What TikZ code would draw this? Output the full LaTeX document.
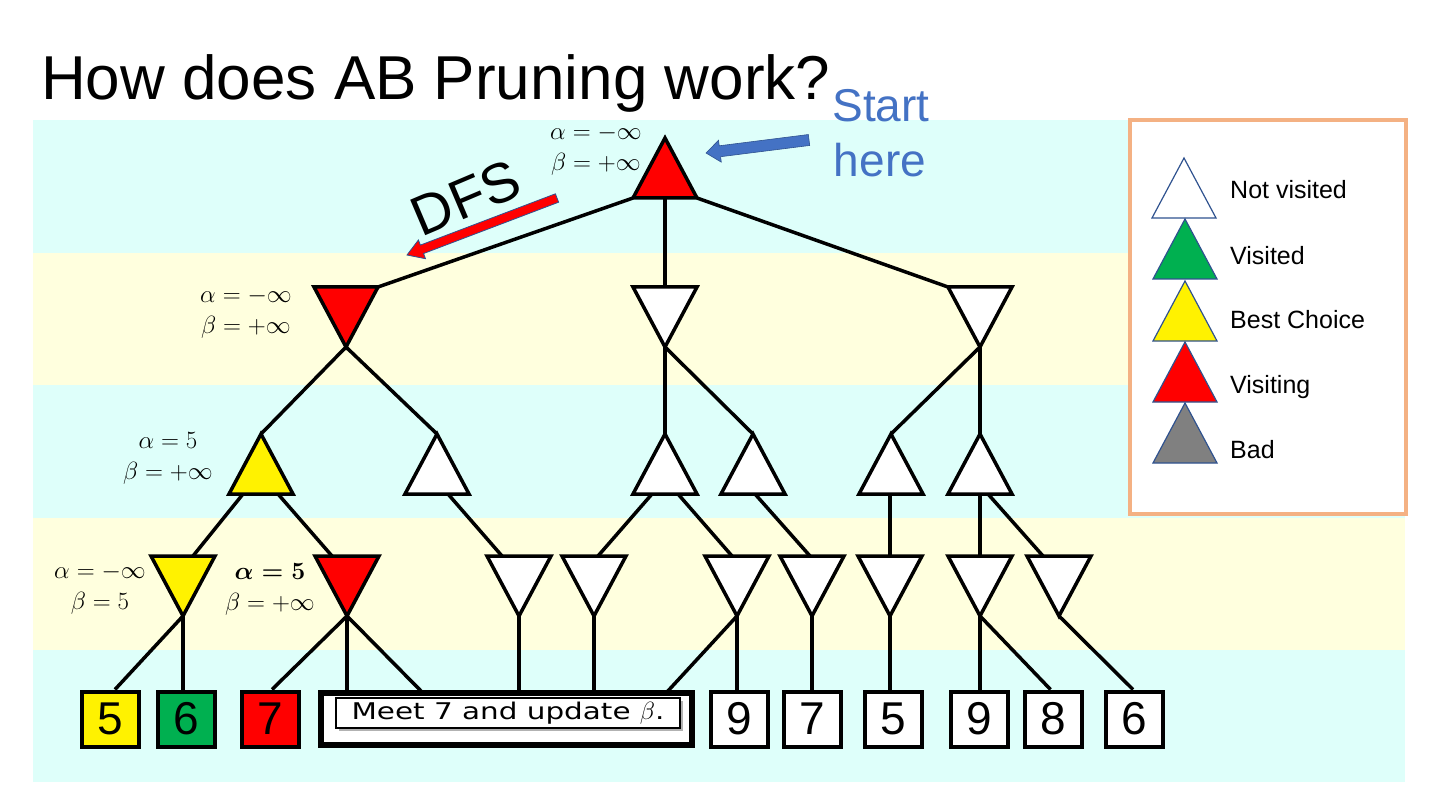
\documentclass[tikz,border=0pt]{standalone}
\usepackage{fontspec}
\setmainfont{Liberation Sans}
\newfontfamily\callfont[FakeStretch=1.28]{DejaVu Sans}
\usetikzlibrary{calc,shadows}
\definecolor{bandc}{RGB}{222,255,250}
\definecolor{bandy}{RGB}{255,255,222}
\definecolor{ppblue}{RGB}{68,114,196}
\definecolor{ppdark}{RGB}{47,82,143}
\definecolor{ppgreen}{RGB}{0,176,80}
\definecolor{legframe}{RGB}{244,177,131}
\definecolor{badgray}{RGB}{128,128,128}
\newcommand\defup[2]{\coordinate (#1) at (#2);
 \coordinate (#1-t) at ($(#1)+(0,-30)$); \coordinate (#1-b) at ($(#1)+(0,30)$);
 \coordinate (#1-l) at ($(#1)+(-32,30)$); \coordinate (#1-r) at ($(#1)+(32,30)$);}
\newcommand\defdn[2]{\coordinate (#1) at (#2);
 \coordinate (#1-t) at ($(#1)+(0,-30)$); \coordinate (#1-b) at ($(#1)+(0,30)$);
 \coordinate (#1-l) at ($(#1)+(-32,-30)$); \coordinate (#1-r) at ($(#1)+(32,-30)$);}
\newcommand\drawup[3][tri]{\draw[#1,fill=#3] (#2-t) -- (#2-r) -- (#2-l) -- cycle;}
\newcommand\drawdn[3][tri]{\draw[#1,fill=#3] (#2-b) -- (#2-r) -- (#2-l) -- cycle;}
\tikzset{
 tri/.style={draw=black, line width=3.5pt, line join=miter},
 legtri/.style={draw=ppdark, line width=1.2pt, line join=miter},
 edge/.style={draw=black, line width=3.5pt},
 leaf/.style={draw=black, line width=4pt, minimum width=57pt, minimum height=55pt, inner sep=0pt, fill=white, font=\fontsize{46}{46}\selectfont},
 ablabel/.style={align=center, inner sep=0pt, font=\fontsize{26.5}{31}\selectfont},
 legtext/.style={anchor=base west, inner sep=0pt, font=\fontsize{25}{25}\selectfont},
}
\begin{document}
\begin{tikzpicture}[x=1pt,y=-1pt]
\useasboundingbox (0,0) rectangle (1440,810);
\fill[white] (0,0) rectangle (1440,810);
% bands
\fill[bandc] (33,120) rectangle (1405,253);
\fill[bandy] (33,253) rectangle (1405,385);
\fill[bandc] (33,385) rectangle (1405,518);
\fill[bandy] (33,518) rectangle (1405,650);
\fill[bandc] (33,650) rectangle (1405,782);

% tree coordinates
\defup{R0}{665,168}
\defdn{A1}{346,317} \defdn{B1}{665,317} \defdn{C1}{980,317}
\defup{A2}{261,464} \defup{B2}{437,464} \defup{C2}{665,464}
\defup{D2}{753,464} \defup{E2}{891,464} \defup{F2}{980,464}
\defdn{A3}{183,586} \defdn{B3}{347,586} \defdn{C3}{519,586}
\defdn{D3}{594,586} \defdn{E3}{737,586} \defdn{F3}{812,586}
\defdn{G3}{890,586} \defdn{H3}{980,586} \defdn{I3}{1059,586}

% leaves
\node[leaf, fill=yellow] (L1) at (110.5,719) {5};
\node[leaf, fill=ppgreen] (L2) at (186.5,719) {6};
\node[leaf, fill=red] (L3) at (270,719) {7};
\node[leaf] (L4) at (739,719) {9};
\node[leaf] (L5) at (812.5,719) {7};
\node[leaf] (L6) at (893,719) {5};
\node[leaf] (L7) at (979.5,719) {9};
\node[leaf] (L8) at (1053.5,719) {8};
\node[leaf] (L9) at (1134,719) {6};

% callout over hidden leaves
\node[draw=black, line width=4pt, minimum width=373pt, minimum height=54pt, inner sep=0pt, fill=white] (CO) at (506.5,719) {};
\draw[line width=1.5pt] ($(CO.north west)+(5,5)$) rectangle ($(CO.south east)+(-5,-5)$);
\coordinate (h1) at (422,692);
\coordinate (h2) at (667,692);

% edges
\draw[edge] (R0-l) -- (A1-r);
\draw[edge] (R0-b) -- (B1-t);
\draw[edge] (R0-r) -- (C1-l);
\draw[edge] (A1-b) -- (A2-t);
\draw[edge] (A1-b) -- (B2-t);
\draw[edge] (B1-b) -- (C2-t);
\draw[edge] (B1-b) -- (D2-t);
\draw[edge] (C1-b) -- (E2-t);
\draw[edge] (C1-b) -- (F2-t);
\draw[edge] ($(A2-b)+(-18,0)$) -- ($(A3-t)+(10,0)$);
\draw[edge] ($(A2-b)+(17,0)$) -- ($(B3-t)+(-15,0)$);
\draw[edge] ($(B2-b)+(11,0)$) -- ($(C3-t)+(-17,0)$);
\draw[edge] ($(C2-b)+(-13,0)$) -- ($(D3-t)+(4,0)$);
\draw[edge] ($(C2-b)+(13,0)$) -- ($(E3-t)+(-5,0)$);
\draw[edge] ($(D2-b)+(2,0)$) -- ($(F3-t)+(-2,0)$);
\draw[edge] ($(E2-b)+(-1,0)$) -- (G3-t);
\draw[edge] (F2-b) -- (H3-t);
\draw[edge] ($(F2-b)+(8,0)$) -- ($(I3-t)+(-16,0)$);
\draw[edge] (A3-b) -- ($(L1.north)+(4.5,0)$);
\draw[edge] (A3-b) -- (A3-b |- L2.north);
\draw[edge] (B3-b) -- ($(L3.north)+(2,0)$);
\draw[edge] (B3-b) -- (B3-b |- CO.north);
\draw[edge] (B3-b) -- (h1);
\draw[edge] (C3-b) -- (C3-b |- CO.north);
\draw[edge] (D3-b) -- (D3-b |- CO.north);
\draw[edge] (E3-b) -- (h2);
\draw[edge] (E3-b) -- (E3-b |- L4.north);
\draw[edge] (F3-b) -- (F3-b |- L5.north);
\draw[edge] (G3-b) -- (G3-b |- L6.north);
\draw[edge] (H3-b) -- (H3-b |- L7.north);
\draw[edge] (H3-b) -- ($(L8.north)+(-3,0)$);
\draw[edge] (I3-b) -- ($(L9.north)+(-1,0)$);

% triangles
\drawup{R0}{red}
\drawdn{A1}{red} \drawdn{B1}{white} \drawdn{C1}{white}
\drawup{A2}{yellow} \drawup{B2}{white} \drawup{C2}{white}
\drawup{D2}{white} \drawup{E2}{white} \drawup{F2}{white}
\drawdn{A3}{yellow} \drawdn{B3}{red} \drawdn{C3}{white}
\drawdn{D3}{white} \drawdn{E3}{white} \drawdn{F3}{white}
\drawdn{G3}{white} \drawdn{H3}{white} \drawdn{I3}{white}

% callout text
\node[draw=black, line width=2pt, fill=white, minimum width=344pt, minimum height=30pt, inner sep=0pt,
  drop shadow={shadow xshift=3pt, shadow yshift=-3pt, fill=gray, opacity=0.6},
  font=\callfont\fontsize{23}{23}\selectfont] (CI) at (508,713) {Meet 7 and update $\beta$.};

% alpha beta labels
\node[ablabel, anchor=east] (lR0) at (642,150) {$\alpha=-\infty$\\$\beta=+\infty$};
\node[ablabel] (lA1) at (246,313) {$\alpha=-\infty$\\$\beta=+\infty$};
\node[ablabel] (lA2) at (168,458) {$\alpha=5$\\$\beta=+\infty$};
\node[ablabel] (lA3) at (100,589) {$\alpha=-\infty$\\$\beta=5$};
\node[ablabel] (lB3) at (270,589) {{\boldmath$\alpha=5$}\\$\beta=+\infty$};

% legend
\draw[legframe, line width=4pt, fill=white] (1130,120) rectangle (1406,514);
\defup{G1}{1184,188} \defup{G2}{1185,249} \defup{G3}{1185,311}
\defup{G4}{1185,372} \defup{G5}{1185,433}
\drawup[legtri]{G1}{white}
\drawup[legtri]{G2}{ppgreen}
\drawup[legtri]{G3}{yellow}
\drawup[legtri]{G4}{red}
\drawup[legtri]{G5}{badgray}
\node[legtext] (t1) at (1230,199) {Not visited};
\node[legtext] (t2) at (1230,265) {Visited};
\node[legtext] (t3) at (1230,328) {Best Choice};
\node[legtext] (t4) at (1230,393) {Visiting};
\node[legtext] (t5) at (1230,458) {Bad};

% title
\node[anchor=base west, inner sep=0pt, font=\fontsize{62}{62}\selectfont] (title) at (41,100) {How does AB Pruning work?};

% DFS arrow
\filldraw[fill=red, draw=ppdark, line width=0.8pt] (555.4,193.8) -- (420.35,245.11) -- (418.4,240.0) -- (407,255) -- (425.5,258.7) -- (423.55,253.53) -- (558.6,202.2) -- cycle;
\node[rotate=23, inner sep=0pt, font=\fontsize{56}{56}\selectfont] (dfs) at (466,198) {DFS};

% start arrow
\filldraw[fill=ppblue, draw=ppdark, line width=0.6pt] (808.31,134.54) -- (719.21,145.79) -- (718.52,140.34) -- (706,153) -- (721.28,162.16) -- (720.59,156.71) -- (809.69,145.46) -- cycle;
\node[anchor=base, inner sep=0pt, text=ppblue, font=\fontsize{46}{46}\selectfont] (st) at (881,122) {Start};
\node[anchor=base, inner sep=0pt, text=ppblue, font=\fontsize{46}{46}\selectfont] (hr) at (880,177) {here};
\end{tikzpicture}
\end{document}
